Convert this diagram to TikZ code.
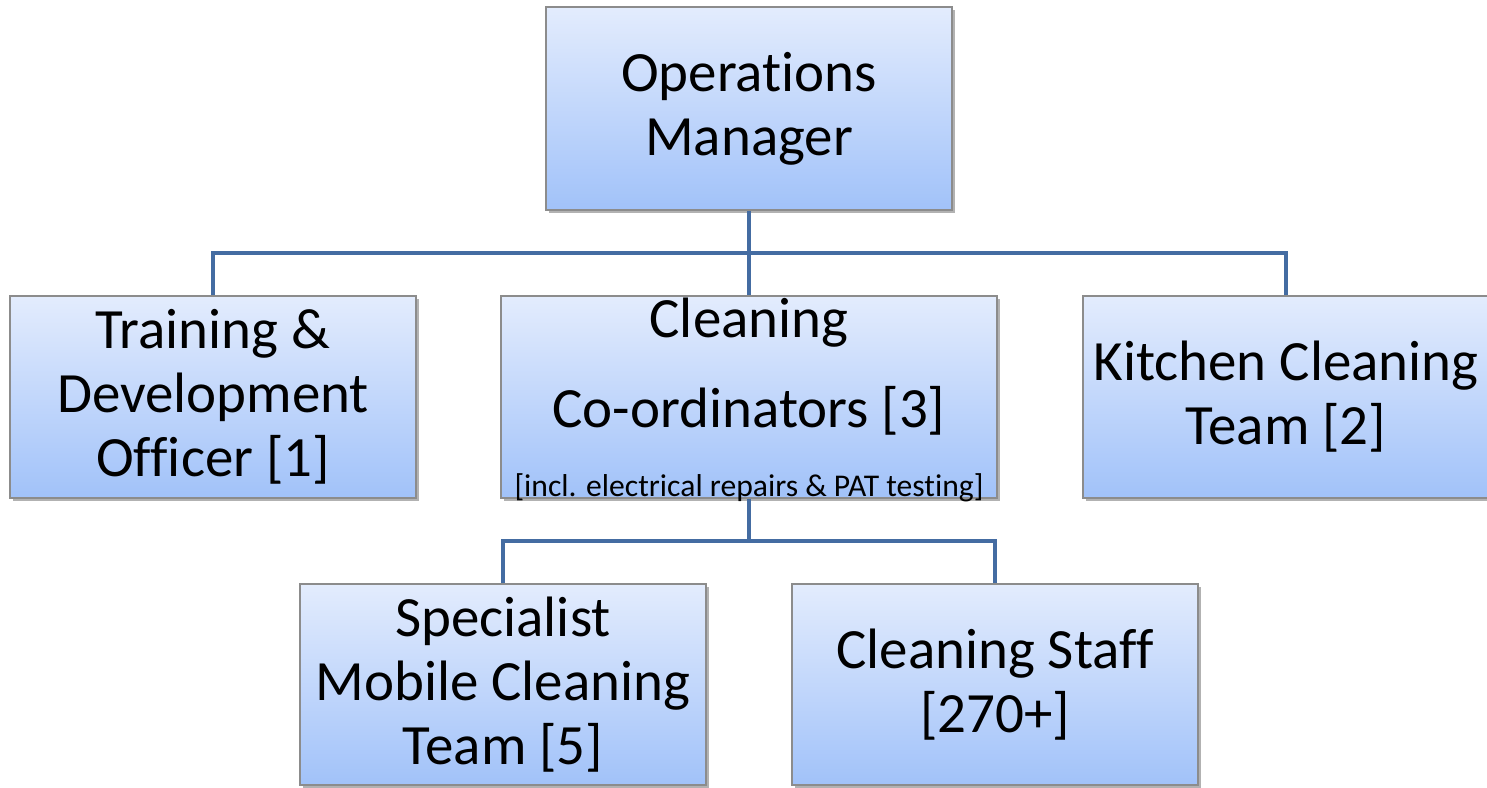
\documentclass[tikz,border=0pt]{standalone}
\usepackage{fontspec}
\setmainfont{Carlito}[Ligatures=NoCommon]
\usetikzlibrary{shadows}
\definecolor{boxtop}{RGB}{227,236,253}
\definecolor{boxbottom}{RGB}{161,194,249}
\definecolor{boxborder}{RGB}{140,140,140}
\definecolor{linkblue}{RGB}{68,108,162}
\begin{document}
\begin{tikzpicture}[
    post/.style ={rectangle, draw=boxborder, line width=0.5pt, top color=boxtop, bottom color=boxbottom,
      minimum width=4.06cm, minimum height=2.02cm, inner sep=0pt, align=center,
      font=\fontsize{16.2}{18.2}\selectfont,
      drop shadow={shadow xshift=0.03cm, shadow yshift=-0.03cm, opacity=0.3, fill=black}},
    note/.style ={inner sep=0pt, font=\fontsize{9}{10.8}\selectfont},
    link/.style ={draw=linkblue, line width=1.4pt}]
   \useasboundingbox (0,0) rectangle (14.87,7.87);
   \node[post, minimum height=2.03cm] (om) at (7.49,6.785) {Operations\\Manager};
   \node[post] (td) at (2.13,3.90) {Training \&\\Development\\Officer [1]};
   \node[post, minimum width=4.96cm, text depth=0.68cm] (cc) at (7.49,3.90) {Cleaning\\[7.5pt]Co-ordinators [3]};
   \node[note, anchor=base] (ccnote) at ([yshift=0.02cm]cc.south) {[incl. electrical repairs \& PAT testing]};
   \node[post] (kc) at (12.86,3.90) {Kitchen Cleaning\\Team [2]};
   \node[post, minimum height=2.01cm] (sm) at (5.03,1.025) {Specialist\\Mobile Cleaning\\Team [5]};
   \node[post, minimum height=2.01cm] (cs) at (9.95,1.025) {Cleaning Staff\\{[270+]}};
   \coordinate (bus1) at (7.49,5.34);
   \coordinate (bus2) at (7.49,2.46);
   \draw[link] (om) -- (bus1);
   \draw[link] (td.north) |- (bus1) -| (kc.north);
   \draw[link] (bus1) -- (cc);
   \draw[link] (cc) -- (bus2);
   \draw[link] (sm.north) |- (bus2) -| (cs.north);
 \end{tikzpicture}
\end{document}
